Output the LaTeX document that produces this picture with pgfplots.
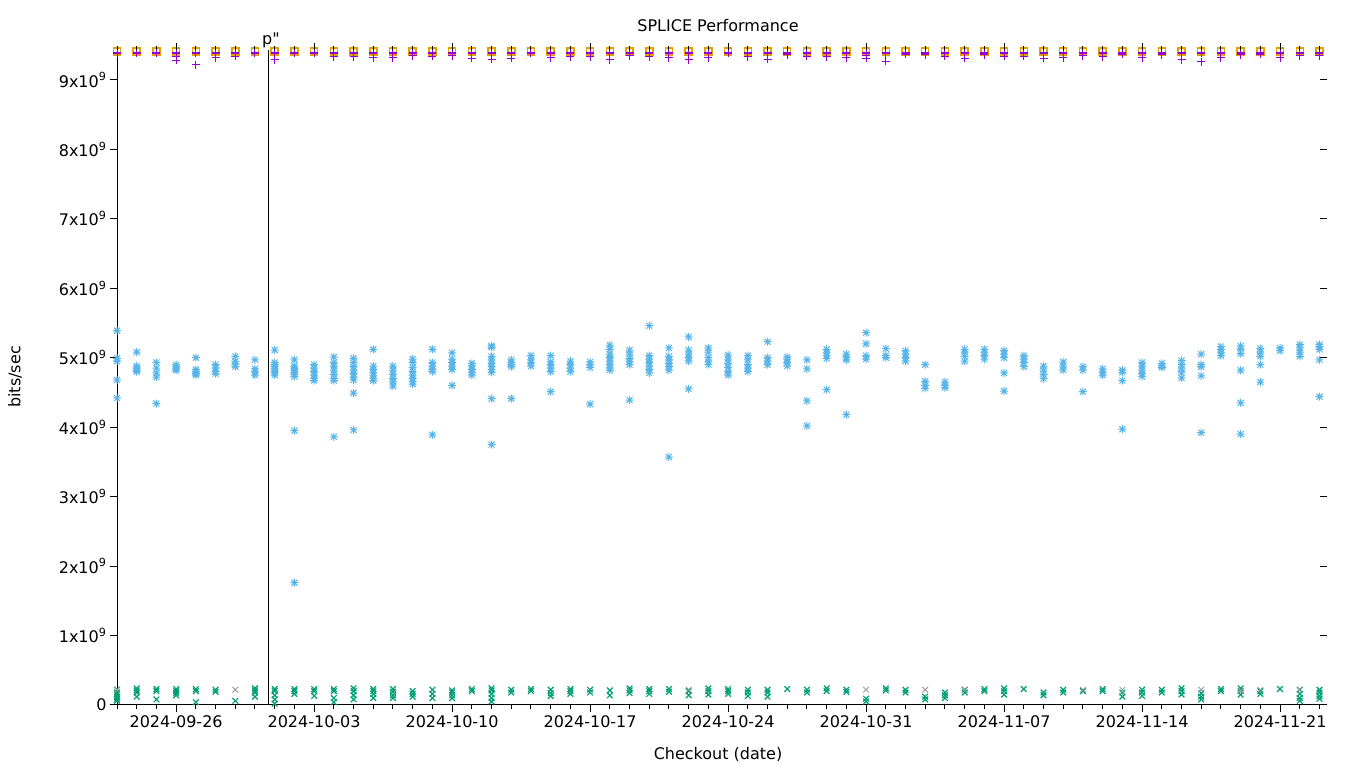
\documentclass[border=0pt]{standalone}
\usepackage{fontspec}
\setmainfont{DejaVu Sans}
\newfontfamily\plainfont{DejaVu Sans}[Ligatures=ResetAll]
\usepackage{pgfplots}
\usepackage{pgfplotstable}
\pgfplotsset{compat=1.18}
\definecolor{gpurple}{RGB}{148,0,211}
\definecolor{ggreen}{RGB}{0,158,115}
\definecolor{gblue}{RGB}{86,180,233}
\definecolor{gorange}{RGB}{230,159,0}
\definecolor{ggray}{RGB}{150,150,150}
\pgfdeclareplotmark{gpast}{%
 \pgfpathmoveto{\pgfqpoint{-\pgfplotmarksize}{0pt}}\pgfpathlineto{\pgfqpoint{\pgfplotmarksize}{0pt}}%
 \pgfpathmoveto{\pgfqpoint{0pt}{-\pgfplotmarksize}}\pgfpathlineto{\pgfqpoint{0pt}{\pgfplotmarksize}}%
 \pgfpathmoveto{\pgfqpoint{-0.75\pgfplotmarksize}{-0.75\pgfplotmarksize}}\pgfpathlineto{\pgfqpoint{0.75\pgfplotmarksize}{0.75\pgfplotmarksize}}%
 \pgfpathmoveto{\pgfqpoint{-0.75\pgfplotmarksize}{0.75\pgfplotmarksize}}\pgfpathlineto{\pgfqpoint{0.75\pgfplotmarksize}{-0.75\pgfplotmarksize}}%
 \pgfusepathqstroke}
\newcommand{\gpfont}{\fontsize{16}{19}\selectfont}
\pgfplotstableread{
d o a b
0 9.41 9.40 9.38
1 9.41 9.40 9.38
2 9.41 9.40 9.38
3 9.41 9.40 9.38
4 9.41 9.40 9.38
5 9.41 9.40 9.38
6 9.41 9.40 9.38
7 9.41 9.40 9.38
8 9.41 9.40 9.38
9 9.41 9.40 9.38
10 9.41 9.40 9.38
11 9.41 9.40 9.38
12 9.41 9.40 9.38
13 9.41 9.40 9.38
14 9.41 9.40 9.38
15 9.41 9.40 9.38
16 9.41 9.40 9.38
17 9.41 9.40 9.38
18 9.41 9.40 9.38
19 9.41 9.40 9.38
20 9.41 9.40 9.38
21 9.41 9.40 9.38
22 9.41 9.40 9.38
23 9.41 9.40 9.38
24 9.41 9.40 9.38
25 9.41 9.40 9.38
26 9.41 9.40 9.38
27 9.41 9.40 9.38
28 9.41 9.40 9.38
29 9.41 9.40 9.38
30 9.41 9.40 9.38
31 9.41 9.40 9.38
32 9.41 9.40 9.38
33 9.41 9.40 9.38
34 9.41 9.40 9.38
35 9.41 9.40 9.38
36 9.41 9.40 9.38
37 9.41 9.40 9.38
38 9.41 9.40 9.38
39 9.41 9.40 9.38
40 9.41 9.40 9.38
41 9.41 9.40 9.38
42 9.41 9.40 9.38
43 9.41 9.40 9.38
44 9.41 9.40 9.38
45 9.41 9.40 9.38
46 9.41 9.40 9.38
47 9.41 9.40 9.38
48 9.41 9.40 9.38
49 9.41 9.40 9.38
50 9.41 9.40 9.38
51 9.41 9.40 9.38
52 9.41 9.40 9.38
53 9.41 9.40 9.38
54 9.41 9.40 9.38
55 9.41 9.40 9.38
56 9.41 9.40 9.38
57 9.41 9.40 9.38
58 9.41 9.40 9.38
59 9.41 9.40 9.38
60 9.41 9.40 9.38
61 9.41 9.40 9.38
}\toptable
\pgfplotsset{gp/.style={scale only axis, width=1210pt, height=655pt,
  xmin=0, xmax=61.38, ymin=0, ymax=9.43,
  at={(117pt,63pt)}, anchor=south west,
  xtick={3,10,17,24,31,38,45,52,59}, minor xtick={0,...,61},
  ytick={0,1,2,3,4,5,6,7,8,9},
  major tick length=7pt, minor tick length=4pt,
  every tick/.style={black, line width=1pt},
  axis line style={line width=1pt},
  tick label style={font=\gpfont},
  clip=false}}
\begin{document}
\begin{tikzpicture}
\useasboundingbox (0,0) rectangle (1360pt,768pt);
\begin{axis}[gp, axis x line*=bottom, axis y line*=left, tick align=outside,
  xticklabels={2024-09-26,2024-10-03,2024-10-10,2024-10-17,2024-10-24,2024-10-31,2024-11-07,2024-11-14,2024-11-21},
  yticklabels={0,1x10\textsuperscript{9},2x10\textsuperscript{9},3x10\textsuperscript{9},4x10\textsuperscript{9},5x10\textsuperscript{9},6x10\textsuperscript{9},7x10\textsuperscript{9},8x10\textsuperscript{9},9x10\textsuperscript{9}}]
% green
\addplot[only marks, mark=x, mark size=4pt, color=ggreen, line width=1.2pt] coordinates {
(0,0.22)(0,0.18)(0,0.15)(0,0.12)(0,0.09)(0,0.06)
(1,0.24)(1,0.21)(1,0.18)(1,0.12)
(2,0.23)(2,0.20)(2,0.08)
(3,0.23)(3,0.20)(3,0.17)(3,0.14)
(4,0.23)(4,0.20)(4,0.04)
(5,0.22)(5,0.19)
(6,0.06)
(7,0.24)(7,0.21)(7,0.18)(7,0.12)
(8,0.23)(8,0.20)(8,0.14)(8,0.08)(8,0.02)
(9,0.23)(9,0.20)(9,0.16)
(10,0.23)(10,0.20)(10,0.13)
(11,0.23)(11,0.20)(11,0.10)(11,0.04)
(12,0.24)(12,0.20)(12,0.14)(12,0.08)
(13,0.23)(13,0.20)(13,0.16)(13,0.10)
(14,0.23)(14,0.19)(14,0.14)(14,0.10)
(15,0.20)(15,0.16)(15,0.12)
(16,0.22)(16,0.16)(16,0.10)
(17,0.21)(17,0.18)(17,0.14)(17,0.10)
(18,0.23)(18,0.20)
(19,0.24)(19,0.21)(19,0.16)(19,0.10)(19,0.05)
(20,0.22)(20,0.18)
(21,0.23)(21,0.20)
(22,0.22)(22,0.17)(22,0.13)
(23,0.23)(23,0.20)(23,0.16)
(24,0.22)(24,0.18)
(25,0.21)(25,0.14)
(26,0.24)(26,0.21)(26,0.17)
(27,0.23)(27,0.20)(27,0.16)
(28,0.23)(28,0.19)
(29,0.20)(29,0.14)
(30,0.24)(30,0.20)(30,0.15)
(31,0.23)(31,0.20)(31,0.16)
(32,0.22)(32,0.18)(32,0.13)
(33,0.22)(33,0.18)(33,0.12)
(34,0.23)
(35,0.22)(35,0.18)
(36,0.24)(36,0.20)
(37,0.22)(37,0.19)
(38,0.09)(38,0.05)
(39,0.24)(39,0.21)
(40,0.22)(40,0.18)
(41,0.12)(41,0.08)
(42,0.18)(42,0.14)(42,0.10)
(43,0.22)(43,0.18)
(44,0.23)(44,0.20)
(45,0.24)(45,0.20)(45,0.15)
(46,0.23)
(47,0.18)(47,0.14)
(48,0.22)(48,0.18)
(49,0.20)
(50,0.23)(50,0.20)
(51,0.18)(51,0.12)
(52,0.22)(52,0.18)(52,0.13)
(53,0.22)(53,0.18)
(54,0.24)(54,0.20)(54,0.15)
(55,0.17)(55,0.12)(55,0.08)
(56,0.23)(56,0.20)
(57,0.24)(57,0.20)(57,0.15)
(58,0.20)(58,0.16)
(59,0.23)
(60,0.22)(60,0.16)(60,0.10)(60,0.06)
(61,0.22)(61,0.18)(61,0.13)(61,0.09)
};
% gray
\addplot[only marks, mark=x, mark size=4pt, color=ggray, line width=0.8pt] coordinates {
(0,0.22)(6,0.22)(29,0.22)(38,0.22)(41,0.22)(43,0.22)(49,0.22)(51,0.22)(55,0.22)(57,0.20)(58,0.22)(60,0.22)
};
% blue
\addplot[only marks, mark=gpast, mark size=4pt, color=gblue, line width=1pt] coordinates {
(0,5.39)(0,4.99)(0,4.95)(0,4.68)(0,4.42)
(1,5.08)(1,4.88)(1,4.85)(1,4.82)(1,4.80)
(2,4.93)(2,4.85)(2,4.78)(2,4.72)(2,4.34)
(3,4.90)(3,4.87)(3,4.84)(3,4.82)
(4,5.00)(4,4.83)(4,4.80)(4,4.77)(4,4.75)
(5,4.90)(5,4.85)(5,4.80)(5,4.77)
(6,5.02)(6,4.95)(6,4.90)(6,4.87)
(7,4.97)(7,4.84)(7,4.80)(7,4.75)
(8,5.11)(8,4.93)(8,4.90)(8,4.87)(8,4.84)(8,4.81)(8,4.78)(8,4.75)
(9,4.97)(9,4.88)(9,4.85)(9,4.82)(9,4.79)(9,4.76)(9,4.73)(9,3.95)(9,1.76)
(10,4.90)(10,4.85)(10,4.80)(10,4.75)(10,4.70)(10,4.67)
(11,5.01)(11,4.93)(11,4.88)(11,4.82)(11,4.76)(11,4.70)(11,4.67)(11,3.86)
(12,4.99)(12,4.93)(12,4.87)(12,4.82)(12,4.77)(12,4.72)(12,4.68)(12,4.49)(12,3.96)
(13,5.12)(13,4.88)(13,4.83)(13,4.78)(13,4.74)(13,4.70)(13,4.67)
(14,4.88)(14,4.82)(14,4.76)(14,4.70)(14,4.65)(14,4.59)
(15,4.98)(15,4.93)(15,4.86)(15,4.80)(15,4.75)(15,4.70)(15,4.66)(15,4.62)
(16,5.12)(16,4.93)(16,4.88)(16,4.83)(16,4.80)(16,3.89)
(17,5.07)(17,4.98)(17,4.93)(17,4.88)(17,4.83)(17,4.60)
(18,4.92)(18,4.88)(18,4.83)(18,4.79)(18,4.75)
(19,5.17)(19,5.15)(19,5.02)(19,4.97)(19,4.92)(19,4.87)(19,4.83)(19,4.79)(19,4.41)(19,3.75)
(20,4.97)(20,4.93)(20,4.90)(20,4.87)(20,4.41)
(21,5.03)(21,4.97)(21,4.93)(21,4.88)
(22,5.03)(22,4.94)(22,4.90)(22,4.85)(22,4.80)(22,4.51)
(23,4.95)(23,4.90)(23,4.85)(23,4.80)
(24,4.94)(24,4.90)(24,4.86)(24,4.33)
(25,5.18)(25,5.12)(25,5.05)(25,5.00)(25,4.95)(25,4.90)(25,4.85)(25,4.82)
(26,5.11)(26,5.05)(26,4.99)(26,4.94)(26,4.90)(26,4.39)
(27,5.46)(27,5.03)(27,4.98)(27,4.93)(27,4.88)(27,4.83)(27,4.78)
(28,5.14)(28,5.02)(28,4.97)(28,4.92)(28,4.87)(28,4.82)(28,3.57)
(29,5.30)(29,5.11)(29,5.05)(29,5.00)(29,4.95)(29,4.55)
(30,5.14)(30,5.08)(30,5.00)(30,4.94)(30,4.90)
(31,5.04)(31,4.98)(31,4.92)(31,4.86)(31,4.80)(31,4.75)
(32,5.03)(32,4.97)(32,4.90)(32,4.85)(32,4.80)
(33,5.23)(33,5.00)(33,4.95)(33,4.90)
(34,5.01)(34,4.98)(34,4.93)(34,4.88)
(35,4.97)(35,4.84)(35,4.38)(35,4.02)
(36,5.12)(36,5.07)(36,5.03)(36,4.99)(36,4.54)
(37,5.05)(37,5.00)(37,4.97)(37,4.18)
(38,5.36)(38,5.20)(38,5.03)(38,4.98)
(39,5.13)(39,5.03)(39,5.00)
(40,5.10)(40,5.05)(40,5.00)(40,4.95)
(41,4.90)(41,4.66)(41,4.60)(41,4.56)
(42,4.65)(42,4.60)(42,4.57)
(43,5.12)(43,5.08)(43,5.02)(43,4.95)
(44,5.12)(44,5.08)(44,5.03)(44,4.98)
(45,5.10)(45,5.05)(45,5.00)(45,4.78)(45,4.52)
(46,5.03)(46,4.98)(46,4.93)(46,4.87)
(47,4.88)(47,4.82)(47,4.76)(47,4.70)
(48,4.94)(48,4.88)(48,4.82)
(49,4.87)(49,4.82)(49,4.51)
(50,4.84)(50,4.79)(50,4.75)
(51,4.82)(51,4.79)(51,4.67)(51,3.97)
(52,4.93)(52,4.88)(52,4.82)(52,4.77)(52,4.73)
(53,4.92)(53,4.88)(53,4.86)
(54,4.96)(54,4.90)(54,4.84)(54,4.78)(54,4.71)
(55,5.05)(55,4.90)(55,4.87)(55,4.74)(55,3.92)
(56,5.16)(56,5.12)(56,5.07)(56,5.03)
(57,5.17)(57,5.12)(57,5.06)(57,4.82)(57,4.35)(57,3.90)
(58,5.13)(58,5.08)(58,5.02)(58,4.90)(58,4.65)
(59,5.14)(59,5.10)
(60,5.19)(60,5.14)(60,5.08)(60,5.02)
(61,5.19)(61,5.16)(61,5.12)(61,4.97)(61,4.44)
};
% orange squares
\addplot[only marks, mark=square, mark size=3.5pt, color=gorange, line width=1.5pt] table[x=d, y=o] {\toptable};
% purple
\addplot[only marks, mark=+, mark size=4pt, color=gpurple, line width=1pt] table[x=d, y=a] {\toptable};
\addplot[only marks, mark=+, mark size=4pt, color=gpurple, line width=1pt] table[x=d, y=b] {\toptable};
\addplot[only marks, mark=+, mark size=4pt, color=gpurple, line width=1pt] coordinates {
(3,9.33)(3,9.28)(4,9.22)(5,9.32)(6,9.34)(8,9.29)(10,9.38)(11,9.33)(12,9.33)(13,9.32)
(14,9.32)(15,9.35)(16,9.34)(17,9.35)(18,9.31)(19,9.30)(20,9.31)(22,9.32)(23,9.33)(24,9.33)
(25,9.29)(26,9.35)(27,9.33)(28,9.32)(29,9.29)(30,9.32)(32,9.33)(33,9.30)(34,9.36)(35,9.34)
(36,9.33)(37,9.32)(38,9.35)(38,9.31)(39,9.27)(40,9.37)(41,9.36)(42,9.34)(43,9.31)(44,9.36)
(45,9.34)(46,9.34)(47,9.31)(48,9.32)(49,9.35)(50,9.33)(51,9.37)(52,9.32)(53,9.36)(54,9.29)
(55,9.26)(56,9.32)(57,9.36)(58,9.37)(59,9.32)(60,9.35)(61,9.35)
};
% event line
\draw[black, line width=1pt] (axis cs:7.66,0) -- (axis cs:7.66,9.43);
\node[anchor=base, font=\gpfont\plainfont, inner sep=0pt] at (axis cs:7.81,9.43) [yshift=5pt] {p"};
\end{axis}
\begin{axis}[gp, axis x line*=top, axis y line=none, tick align=outside, xticklabels={}, ytick=\empty, axis line style={draw=none}]
\end{axis}
\begin{axis}[gp, axis y line*=right, axis x line=none, tick align=inside, yticklabels={}, xtick=\empty, minor xtick={}, axis line style={draw=none}]
\end{axis}
\node[font=\gpfont] at (718pt,742pt) {SPLICE Performance};
\node[font=\gpfont] at (718pt,14pt) {Checkout (date)};
\node[font=\gpfont, rotate=90] at (15pt,391pt) {bits/sec};
\end{tikzpicture}
\end{document}
